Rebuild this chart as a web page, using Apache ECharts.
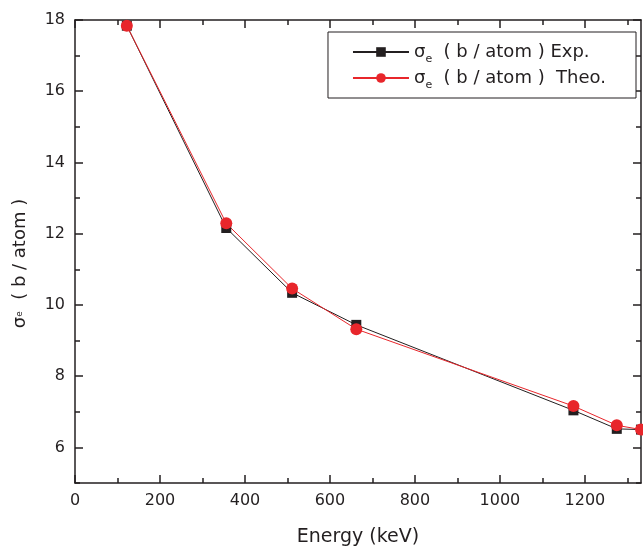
<!DOCTYPE html>
<html>
<head>
<meta charset="utf-8">
<script src="https://cdn.jsdelivr.net/npm/echarts@6/dist/echarts.min.js"></script>
<style>
  html, body { margin: 0; padding: 0; background: #fff; }
  #chart { width: 643px; height: 546px; }
</style>
</head>
<body>
<div id="chart"></div>
<script>
// gamma energies (keV)
const energies = [122, 356, 511, 662, 1173, 1275, 1332];
// sigma_e (b/atom)
const expValues = [17.84, 12.16, 10.34, 9.44, 7.04, 6.52, 6.50];
const theoValues = [17.84, 12.29, 10.46, 9.32, 7.16, 6.62, 6.50];
// axis ticks
const xMajorTicks = [0, 200, 400, 600, 800, 1000, 1200];
const xMinorTicks = [100, 300, 500, 700, 900, 1100, 1300];
const yMajorTicks = [6, 8, 10, 12, 14, 16, 18];
const yMinorTicks = [5, 7, 9, 11, 13, 15, 17];

const font = "DejaVu Sans, sans-serif";
const ink = "#231f20";

function pairs(xs, ys) {
  return xs.map((x, i) => [x, ys[i]]);
}

// one axis used only to draw ticks
function tickAxis(pos, min, max, values, len, showLine) {
  return {
    type: "value",
    position: pos,
    min: min,
    max: max,
    axisLine: { show: showLine, onZero: false, lineStyle: { color: ink, width: 1.5 } },
    axisTick: { show: true, inside: true, length: len, customValues: values, lineStyle: { color: ink, width: 1.5 } },
    axisLabel: { show: false },
    splitLine: { show: false }
  };
}

const chart = echarts.init(document.getElementById("chart"));
chart.setOption({
  animation: false,
  backgroundColor: "#fff",
  grid: { left: 75, top: 20, right: 2, bottom: 63, containLabel: false, outerBoundsMode: "none" },
  legend: {
    right: 7,
    top: 32,
    orient: "vertical",
    backgroundColor: "#fff",
    borderColor: ink,
    borderWidth: 1,
    borderRadius: 0,
    padding: [7, 30, 7, 24],
    itemWidth: 56,
    itemHeight: 12,
    itemGap: 0,
    textStyle: {
      color: ink,
      fontFamily: font,
      fontSize: 18,
      lineHeight: 26,
      rich: {
        s: { fontSize: 18, fontFamily: font, color: ink, lineHeight: 26 },
        sub: { fontSize: 11, fontFamily: font, color: ink, lineHeight: 26, verticalAlign: "bottom" }
      }
    },
    formatter: function (name) {
      if (name === "exp") return "{s|σ}{sub|e}  ( b / atom ) Exp.";
      return "{s|σ}{sub|e}  ( b / atom )  Theo.";
    },
    data: ["exp", "theo"]
  },
  xAxis: [
    {
      type: "value",
      position: "bottom",
      min: 0,
      max: 1332,
      name: "Energy (keV)",
      nameLocation: "middle",
      nameGap: 45,
      nameTextStyle: { fontFamily: font, fontSize: 19, color: ink },
      axisLine: { show: true, onZero: false, lineStyle: { color: ink, width: 1.5 } },
      axisTick: { show: true, inside: true, length: 8, customValues: xMajorTicks, lineStyle: { color: ink, width: 1.5 } },
      axisLabel: {
        customValues: xMajorTicks,
        formatter: function (v) { return String(v); },
        fontFamily: font, fontSize: 16, color: ink, margin: 10
      },
      splitLine: { show: false }
    },
    tickAxis("bottom", 0, 1332, xMinorTicks, 5, false),
    tickAxis("top", 0, 1332, xMajorTicks, 8, true),
    tickAxis("top", 0, 1332, xMinorTicks, 5, false)
  ],
  yAxis: [
    {
      type: "value",
      position: "left",
      min: 5,
      max: 18,
      name: "{s|σ}{sub|e}  ( b / atom )",
      nameLocation: "middle",
      nameGap: 46,
      nameRotate: 90,
      nameTextStyle: {
        fontFamily: font,
        fontSize: 18,
        color: ink,
        padding: [0, 24, 0, 0],
        rich: {
          s: { fontFamily: font, fontSize: 18, color: ink },
          sub: { fontFamily: font, fontSize: 9, color: ink }
        }
      },
      axisLine: { show: true, onZero: false, lineStyle: { color: ink, width: 1.5 } },
      axisTick: { show: true, inside: true, length: 8, customValues: yMajorTicks, lineStyle: { color: ink, width: 1.5 } },
      axisLabel: { customValues: yMajorTicks, fontFamily: font, fontSize: 16, color: ink, margin: 10 },
      splitLine: { show: false }
    },
    tickAxis("left", 5, 18, yMinorTicks, 5, false),
    tickAxis("right", 5, 18, yMajorTicks, 8, true),
    tickAxis("right", 5, 18, yMinorTicks, 5, false)
  ],
  series: [
    {
      name: "exp",
      type: "line",
      xAxisIndex: 0,
      yAxisIndex: 0,
      data: pairs(energies, expValues),
      symbol: "rect",
      symbolSize: 10,
      showAllSymbol: true,
      clip: false,
      lineStyle: { color: ink, width: 1 },
      itemStyle: { color: ink }
    },
    {
      name: "theo",
      type: "line",
      xAxisIndex: 0,
      yAxisIndex: 0,
      data: pairs(energies, theoValues),
      symbol: "circle",
      symbolSize: 12,
      showAllSymbol: true,
      clip: false,
      lineStyle: { color: "#e8262b", width: 1 },
      itemStyle: { color: "#e8262b" }
    }
  ]
});
</script>
</body>
</html>
